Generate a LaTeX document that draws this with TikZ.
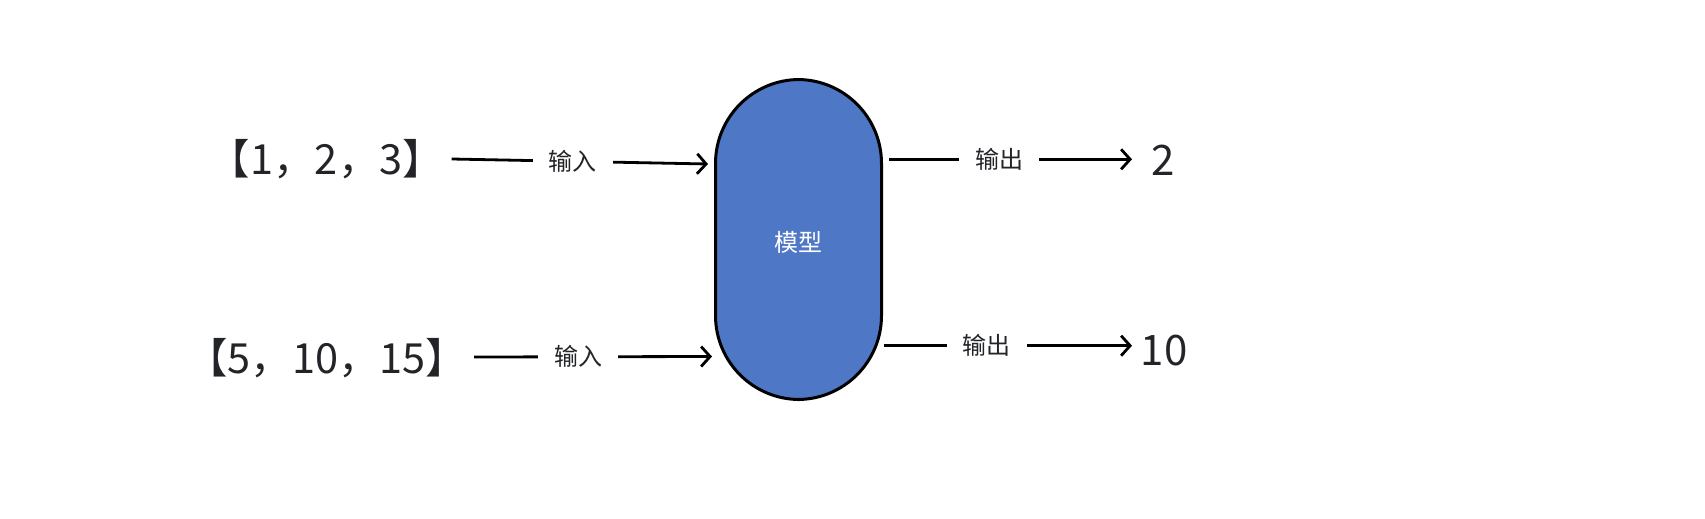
\documentclass[tikz,border=0pt]{standalone}
\usepackage{fontspec}
\setmainfont{Noto Sans CJK SC}
\usetikzlibrary{arrows.meta}
\definecolor{modelblue}{HTML}{4E77C5}
\definecolor{txt}{HTML}{222428}
\begin{document}
\begin{tikzpicture}[x=1pt,y=-1pt,
  arr/.style={line width=2.8pt,-{Straight Barb[length=9pt,width=20pt,line width=2.8pt]},black},
  lbl/.style={fill=white,inner xsep=16pt,inner ysep=2pt,font=\fontsize{24}{26}\selectfont,text=txt},
  val/.style={font=\fontsize{41.5}{45}\selectfont,text=txt,inner sep=0pt},
  outv/.style={font=\fontsize{42}{46}\selectfont,text=txt,inner sep=0pt},
  modelbox/.style={draw=black,line width=3pt,fill=modelblue,rounded corners=84pt,minimum width=166pt,minimum height=320pt,inner sep=0pt}]
\useasboundingbox (0,0) rectangle (1705,519);
\node[modelbox] (model) at (798.5,239.5) {};
\node[text=white,font=\fontsize{24}{26}\selectfont] (mlabel) at (798.5,242.5) {模型};
\node[val] (in1) at (326.5,159.2) {【1，2，3】};
\node[val] (in2) at (326.7,358.3) {【5，10，15】};
\node[outv] (out1) at (1163.3,160.3) {2};
\node[outv] (out2) at (1164,350.3) {10};
\coordinate (a1s) at (451.7,159);
\coordinate (a1e) at (708,164);
\coordinate (a2s) at (474,357);
\coordinate (a2e) at (712,356.5);
\coordinate (b1s) at (889,159.3);
\coordinate (b1e) at (1132,159.3);
\coordinate (b2s) at (884,345.7);
\coordinate (b2e) at (1132,345.7);
\draw[arr] (a1s) -- node[lbl,pos=0.473] {输入} (a1e);
\draw[arr] (a2s) -- node[lbl,pos=0.437] {输入} (a2e);
\draw[arr] (b1s) -- node[lbl,pos=0.453] {输出} (b1e);
\draw[arr] (b2s) -- node[lbl,pos=0.415] {输出} (b2e);
\end{tikzpicture}
\end{document}
